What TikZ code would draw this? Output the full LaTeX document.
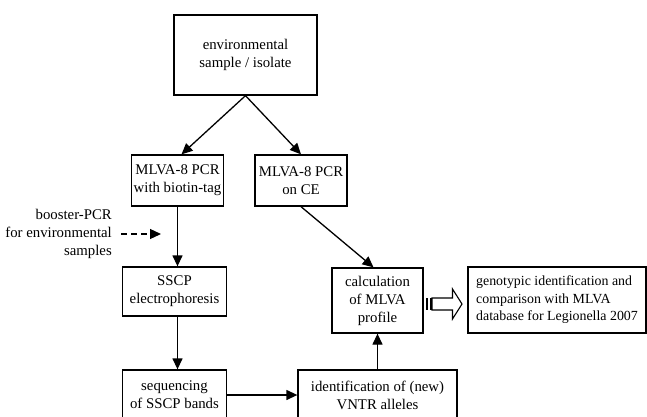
\documentclass[tikz,border=0pt]{standalone}
\usepackage{fontspec}
\setmainfont{Liberation Serif}
\usetikzlibrary{arrows.meta}

\begin{document}
\begin{tikzpicture}[x=1pt,y=-1pt,
    process/.style ={draw, line width=1.3pt, inner sep=0pt, align=center,
                     font=\fontsize{14.8}{18}\selectfont},
    flow/.style ={line width=1.3pt, -{Triangle[length=11pt,width=10pt]}}]
   \useasboundingbox (0,0) rectangle (647,417);
   \clip (0,0) rectangle (647,417);

   \node[process, minimum width=143pt, minimum height=80pt] (sample) at (245.5,55) {environmental\\sample / isolate};
   \node[process, minimum width=92pt, minimum height=51pt] (pcrbio) at (177.5,180.5) {MLVA-8 PCR\\with biotin-tag};
   \node[process, minimum width=92pt, minimum height=51pt] (pcrce) at (301,180.5) {MLVA-8 PCR\\on CE};
   \node[process, minimum width=104pt, minimum height=49pt] (sscp) at (174.5,291.5) {SSCP\\electrophoresis};
   \node[process, minimum width=91pt, minimum height=65pt] (calc) at (377.5,300.5) {calculation\\of MLVA\\profile};
   \node[process, align=left, minimum width=178pt, minimum height=66pt,
         font=\fontsize{13.9}{17.5}\selectfont] (geno) at (557,300) {genotypic identification and\\comparison with MLVA\\database for Legionella 2007};
   \node[process, minimum width=104pt, minimum height=50pt] (seq) at (174.5,395) {sequencing\\of SSCP bands};
   \node[process, minimum width=159pt, minimum height=50pt] (ident) at (377.5,395) {identification of (new)\\VNTR alleles};

   \node[anchor=east, align=right, inner sep=0pt, font=\fontsize{14.8}{18}\selectfont] (booster) at (112,234) {booster-PCR\\for environmental\\samples};
   \coordinate (boostend) at (161,234);

   \draw[flow] (sample.south) to ([xshift=4pt]pcrbio.north);
   \draw[flow] (sample.south) to (pcrce.north);
   \draw[flow] (pcrbio.south) to (pcrbio.south |- sscp.north);
   \draw[flow, dash pattern=on 6pt off 4pt, shorten <=9pt] (booster.east) to (boostend);
   \draw[flow] (sscp.south -| pcrbio.south) to (seq.north -| pcrbio.south);
   \draw[flow] (pcrce.south) to ([xshift=-4pt]calc.north);
   \draw[flow] (seq.east) to (ident.west);
   \draw[flow] (ident.north) to (calc.south);

   % striped hollow arrow
   \fill (426,298) rectangle (427.5,310);
   \fill (429.5,298) rectangle (432,310);
   \draw[line width=1.1pt] (432,298) -- (452.5,298) -- (452.5,289) -- (462,304)
        -- (452.5,319) -- (452.5,310) -- (432,310) -- cycle;
\end{tikzpicture}
\end{document}
